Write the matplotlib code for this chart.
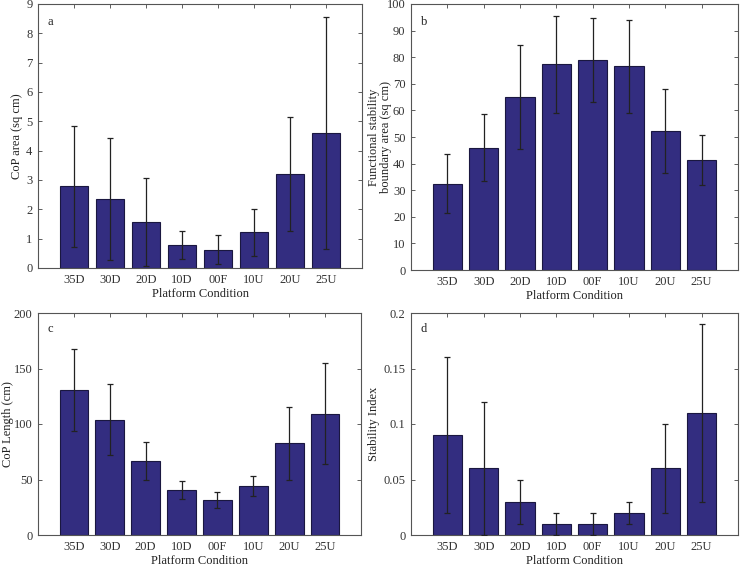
import matplotlib
matplotlib.use("Agg")
import matplotlib.pyplot as plt
import numpy as np

plt.rcParams['font.family'] = ['Liberation Serif', 'DejaVu Serif']

categories = ['35D', '30D', '20D', '10D', '00F', '10U', '20U', '25U']

cop_area = [2.78, 2.35, 1.58, 0.78, 0.63, 1.22, 3.20, 4.60]
cop_area_err = [2.05, 2.07, 1.50, 0.49, 0.48, 0.80, 1.95, 3.95]

fsb_area = [32.5, 46.0, 65.0, 77.3, 79.0, 76.6, 52.3, 41.4]
fsb_area_err = [11.1, 12.6, 19.6, 18.3, 15.8, 17.5, 15.7, 9.4]

cop_length = [131.0, 103.8, 66.5, 40.6, 31.3, 43.9, 82.7, 109.2]
cop_length_err = [37.0, 32.0, 17.0, 8.0, 7.0, 9.0, 32.7, 45.6]

stab_index = [0.09, 0.06, 0.03, 0.01, 0.01, 0.02, 0.06, 0.11]
stab_index_err = [0.07, 0.06, 0.02, 0.01, 0.01, 0.01, 0.04, 0.08]

W, H = 740, 566
fig = plt.figure(figsize=(W / 100, H / 100), dpi=100)

panels = [
    ((38, 4, 362, 268), cop_area, cop_area_err, 'CoP area (sq cm)', (0, 9), np.arange(0, 10, 1), 'a', None, 17),
    ((411, 4, 738, 270), fsb_area, fsb_area_err, 'Functional stability\nboundary area (sq cm)', (0, 100), np.arange(0, 101, 10), 'b', None, 379.5),
    ((38, 313, 361, 535), cop_length, cop_length_err, 'CoP Length (cm)', (0, 200), np.arange(0, 201, 50), 'c', None, 8),
    ((411, 313, 738, 535), stab_index, stab_index_err, 'Stability Index', (0, 0.2), [0, 0.05, 0.1, 0.15, 0.2], 'd', ['0', '0.05', '0.1', '0.15', '0.2'], 374),
]

bar_color = '#332d80'
x = np.arange(1, len(categories) + 1)
fs = 9
for (l, t, r, b), vals, errs, ylabel, ylim, yticks, letter, ytl, ylx in panels:
    ax = fig.add_axes([l / W, 1 - b / H, (r - l) / W, (b - t) / H])
    ax.bar(x, vals, width=0.8, color=bar_color, edgecolor='#1a1740', linewidth=0.8, zorder=2)
    ax.errorbar(x, vals, yerr=errs, fmt='none', ecolor='#222222', elinewidth=0.9,
                capsize=2.5, capthick=0.9, zorder=3)
    ax.set_xlim(0, 9)
    ax.set_ylim(*ylim)
    ax.set_xticks(x)
    ax.set_xticklabels(categories)
    ax.set_yticks(yticks)
    if ytl is not None:
        ax.set_yticklabels(ytl)
    ax.tick_params(direction='in', top=True, right=True, labelsize=fs,
                   length=3, width=0.6, color='#444444', labelcolor='#333333')
    ax.tick_params(axis='y', pad=4)
    ax.tick_params(axis='x', pad=4)
    for s in ax.spines.values():
        s.set_color('#555555')
        s.set_linewidth(0.8)
    ax.set_ylabel(ylabel, fontsize=fs, color='#222222', ha='center', va='center',
                  multialignment='center', linespacing=1.0)
    ax.yaxis.set_label_coords((ylx - l) / (r - l), 0.5)
    ax.set_xlabel('Platform Condition', fontsize=fs, color='#222222', va='center')
    ax.xaxis.set_label_coords(0.5, -(26.0) / (b - t))
    ax.text(0.03, 0.955, letter, transform=ax.transAxes, fontsize=fs, va='top', ha='left', color='#222222')

fig.savefig('out.png', dpi=100)
